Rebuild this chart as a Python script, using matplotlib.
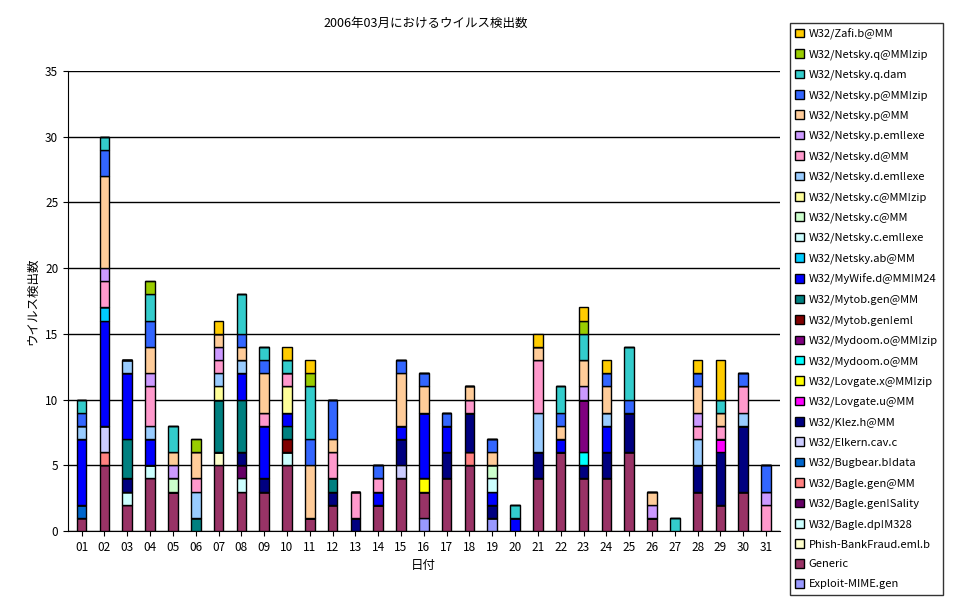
import matplotlib.pyplot as plt
import numpy as np

plt.rcParams['font.family'] = ['Noto Sans CJK JP', 'DejaVu Sans']

days = ["%02d" % d for d in range(1, 32)]

# detections per day (01..31), one list per virus, bottom of stack first
exploit    = [0,0,0,0,0,0,0,0,0,0, 0,0,0,0,0,1,0,0,1,0, 0,0,0,0,0,0,0,0,0,0, 0]
generic    = [1,5,2,4,3,0,5,3,3,5, 1,2,0,2,4,2,4,5,0,0, 4,6,4,4,6,1,0,3,2,3, 0]
phish      = [0,0,0,0,0,0,1,0,0,0, 0,0,0,0,0,0,0,0,0,0, 0,0,0,0,0,0,0,0,0,0, 0]
bagle_dp   = [0,0,1,1,0,0,0,1,0,1, 0,0,0,0,0,0,0,0,0,0, 0,0,0,0,0,0,0,0,0,0, 0]
sality     = [0,0,0,0,0,0,0,1,0,0, 0,0,0,0,0,0,0,0,0,0, 0,0,0,0,0,0,0,0,0,0, 0]
bagle_gen  = [0,1,0,0,0,0,0,0,0,0, 0,0,0,0,0,0,0,1,0,0, 0,0,0,0,0,0,0,0,0,0, 0]
bugbear    = [1,0,0,0,0,0,0,0,0,0, 0,0,0,0,0,0,0,0,0,0, 0,0,0,0,0,0,0,0,0,0, 0]
elkern     = [0,2,0,0,0,0,0,0,0,0, 0,0,0,0,1,0,0,0,0,0, 0,0,0,0,0,0,0,0,0,0, 0]
klez       = [0,0,1,0,0,0,0,1,1,0, 0,1,1,0,2,0,2,3,1,0, 2,0,1,2,3,0,0,2,4,5, 0]
lovgate_u  = [0,0,0,0,0,0,0,0,0,0, 0,0,0,0,0,0,0,0,0,0, 0,0,0,0,0,0,0,0,1,0, 0]
lovgate_x  = [0,0,0,0,0,0,0,0,0,0, 0,0,0,0,0,1,0,0,0,0, 0,0,0,0,0,0,0,0,0,0, 0]
mydoom     = [0,0,0,0,0,0,0,0,0,0, 0,0,0,0,0,0,0,0,0,0, 0,0,1,0,0,0,0,0,0,0, 0]
mydoom_zip = [0,0,0,0,0,0,0,0,0,0, 0,0,0,0,0,0,0,0,0,0, 0,0,4,0,0,0,0,0,0,0, 0]
mytob_eml  = [0,0,0,0,0,0,0,0,0,1, 0,0,0,0,0,0,0,0,0,0, 0,0,0,0,0,0,0,0,0,0, 0]
mytob      = [0,0,3,0,0,1,4,4,0,1, 0,1,0,0,0,0,0,0,0,0, 0,0,0,0,0,0,0,0,0,0, 0]
mywife     = [5,8,5,2,0,0,0,2,4,1, 0,0,0,1,1,5,2,0,1,1, 0,1,0,2,0,0,0,0,0,0, 0]
netsky_ab  = [0,1,0,0,0,0,0,0,0,0, 0,0,0,0,0,0,0,0,0,0, 0,0,0,0,0,0,0,0,0,0, 0]
c_eml      = [0,0,0,0,0,0,0,0,0,0, 0,0,0,0,0,0,0,0,1,0, 0,0,0,0,0,0,0,0,0,0, 0]
c_mm       = [0,0,0,0,1,0,0,0,0,0, 0,0,0,0,0,0,0,0,1,0, 0,0,0,0,0,0,0,0,0,0, 0]
c_zip      = [0,0,0,0,0,0,1,0,0,2, 0,0,0,0,0,0,0,0,0,0, 0,0,0,0,0,0,0,0,0,0, 0]
d_eml      = [1,0,1,1,0,2,1,1,0,0, 0,0,0,0,0,0,0,0,0,0, 3,0,0,1,0,0,0,2,0,1, 0]
d_mm       = [0,2,0,3,0,1,1,0,1,1, 0,2,2,1,0,0,0,1,0,0, 4,0,0,0,0,0,0,1,1,2, 2]
p_eml      = [0,1,0,1,1,0,1,0,0,0, 0,0,0,0,0,0,0,0,0,0, 0,0,1,0,0,1,0,1,0,0, 1]
p_mm       = [0,7,0,2,1,2,1,1,3,0, 4,1,0,0,4,2,0,1,1,0, 1,1,2,2,0,1,0,2,1,0, 0]
p_zip      = [1,2,0,2,0,0,0,1,1,0, 2,3,0,1,1,1,1,0,1,0, 0,1,0,1,1,0,0,1,0,1, 2]
q_dam      = [1,1,0,2,2,0,0,3,1,1, 4,0,0,0,0,0,0,0,0,1, 0,2,2,0,4,0,1,0,1,0, 0]
q_zip      = [0,0,0,1,0,1,0,0,0,0, 1,0,0,0,0,0,0,0,0,0, 0,0,1,0,0,0,0,0,0,0, 0]
zafi       = [0,0,0,0,0,0,1,0,0,1, 1,0,0,0,0,0,0,0,0,0, 1,0,1,1,0,0,0,1,3,0, 0]

series = [
    ("Exploit-MIME.gen", exploit, "#9999FF"),
    ("Generic", generic, "#993366"),
    ("Phish-BankFraud.eml.b", phish, "#FFFFCC"),
    ("W32/Bagle.dp!M328", bagle_dp, "#CCFFFF"),
    ("W32/Bagle.gen!Sality", sality, "#660066"),
    ("W32/Bagle.gen@MM", bagle_gen, "#FF8080"),
    ("W32/Bugbear.b!data", bugbear, "#0066CC"),
    ("W32/Elkern.cav.c", elkern, "#CCCCFF"),
    ("W32/Klez.h@MM", klez, "#000080"),
    ("W32/Lovgate.u@MM", lovgate_u, "#FF00FF"),
    ("W32/Lovgate.x@MM!zip", lovgate_x, "#FFFF00"),
    ("W32/Mydoom.o@MM", mydoom, "#00FFFF"),
    ("W32/Mydoom.o@MM!zip", mydoom_zip, "#800080"),
    ("W32/Mytob.gen!eml", mytob_eml, "#800000"),
    ("W32/Mytob.gen@MM", mytob, "#008080"),
    ("W32/MyWife.d@MM!M24", mywife, "#0000FF"),
    ("W32/Netsky.ab@MM", netsky_ab, "#00CCFF"),
    ("W32/Netsky.c.eml!exe", c_eml, "#CCFFFF"),
    ("W32/Netsky.c@MM", c_mm, "#CCFFCC"),
    ("W32/Netsky.c@MM!zip", c_zip, "#FFFF99"),
    ("W32/Netsky.d.eml!exe", d_eml, "#99CCFF"),
    ("W32/Netsky.d@MM", d_mm, "#FF99CC"),
    ("W32/Netsky.p.eml!exe", p_eml, "#CC99FF"),
    ("W32/Netsky.p@MM", p_mm, "#FFCC99"),
    ("W32/Netsky.p@MM!zip", p_zip, "#3366FF"),
    ("W32/Netsky.q.dam", q_dam, "#33CCCC"),
    ("W32/Netsky.q@MM!zip", q_zip, "#99CC00"),
    ("W32/Zafi.b@MM", zafi, "#FFCC00"),
]

fig = plt.figure(figsize=(9.67, 6), dpi=100)
ax = fig.add_axes([0.0703, 0.115, 0.736, 0.767])

x = np.arange(len(days))
bottom = np.zeros(len(days))
handles = []
for name, vals, col in series:
    v = np.array(vals, dtype=float)
    b = ax.bar(x, v, 0.42, bottom=bottom, color=col, edgecolor="black", linewidth=1, label=name, zorder=3)
    handles.append(b)
    bottom += v

ax.set_xlim(-0.6, len(days) - 0.4)
ax.set_ylim(0, 35)
ax.set_yticks(range(0, 36, 5))
ax.set_xticks(x)
ax.set_xticklabels(days)
ax.yaxis.grid(True, color="black", linewidth=1, zorder=0)
ax.tick_params(labelsize=8.5)
for s in ["top", "right"]:
    ax.spines[s].set_visible(False)
ax.set_xlabel("日付", fontsize=9)
ax.set_ylabel("ウイルス検出数", fontsize=9)
fig.text(0.44, 0.955, "2006年03月におけるウイルス検出数", ha="center", fontsize=9)

leg = fig.legend(handles[::-1], [s[0] for s in series][::-1], loc="upper left",
                 bbox_to_anchor=(784 / 967, 1 - 17 / 600), fontsize=8,
                 labelspacing=0.88, handlelength=0.8, handleheight=0.8,
                 handletextpad=0.4, borderpad=0.5, fancybox=False, edgecolor="black")
leg.get_frame().set_linewidth(1)

fig.savefig("out.png", dpi=100)
